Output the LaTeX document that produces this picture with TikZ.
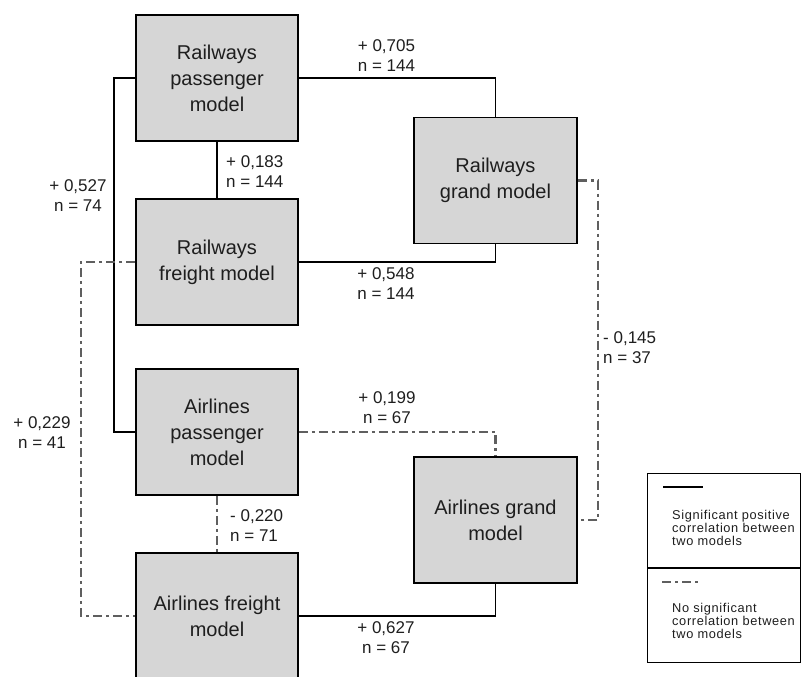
\documentclass[tikz,border=0pt]{standalone}
\usepackage{fontspec}
\setmainfont{Liberation Sans}
\newfontfamily\legendfont[LetterSpace=5]{Liberation Sans}
\definecolor{boxgray}{RGB}{214,214,214}
\definecolor{dashgray}{RGB}{95,95,95}
\definecolor{inkc}{RGB}{30,30,30}
\begin{document}
\begin{tikzpicture}[x=1pt,y=-1pt,
  modelbox/.style={draw=black, line width=1.8pt, fill=boxgray, minimum width=162pt,
    minimum height=126pt, inner sep=0pt, align=center, text=inkc,
    font=\fontsize{20}{26}\selectfont},
  posline/.style={line width=1.4pt, black},
  nosig/.style={line width=2.4pt, color=dashgray, dash pattern=on 9pt off 4pt on 3pt off 4pt},
  lbl/.style={align=center, inner sep=0pt, text=inkc, font=\fontsize{17}{20}\selectfont},
  legtext/.style={align=left, inner sep=0pt, text=inkc, anchor=west,
    font=\legendfont\fontsize{12.8}{13.4}\selectfont}]
\useasboundingbox (0,0) rectangle (801,677);
\clip (0,0) rectangle (801,677);

% model boxes
\node[modelbox] (RP) at (217,78) {Railways\\passenger\\model};
\node[modelbox] (RF) at (217,262) {Railways\\freight model};
\node[modelbox, minimum width=163pt] (RG) at (495.5,180.5) {Railways\\grand model};
\node[modelbox] (AP) at (217,432) {Airlines\\passenger\\model};
\node[modelbox] (AF) at (217,616) {Airlines freight\\model};
\node[modelbox, minimum width=163pt] (AG) at (495.5,520) {Airlines grand\\model};

% connectors
\draw[posline] (RP.west) -- ++(-21,0) |- (AP.west);
\draw[posline] (RP.east) -| (RG.north);
\draw[posline] (RP.south) -- (RF.north);
\draw[posline] (RF.east) -| (RG.south);
\draw[nosig] (RF.west) -- ++(-54,0) |- (AF.west);
\draw[nosig] (AP.east) -| (AG.north);
\draw[nosig] (AP.south) -- (AF.north);
\draw[posline] (AF.east) -| (AG.south);
\draw[nosig] (RG.east) -- ++(20,0) |- (AG.east);

% labels
\node[lbl] (l705) at (386.5,56) {+ 0,705\\n = 144};
\node[lbl, anchor=west, align=left] (l183) at (226,172) {+ 0,183\\n = 144};
\node[lbl] (l527) at (78,195.5) {+ 0,527\\n = 74};
\node[lbl] (l548) at (386,283.5) {+ 0,548\\n = 144};
\node[lbl] (l229) at (42,433) {+ 0,229\\n = 41};
\node[lbl] (l199) at (387,408) {+ 0,199\\n = 67};
\node[lbl, anchor=west, align=left] (l220) at (230,525.5) {- 0,220\\n = 71};
\node[lbl] (l627) at (386,637.5) {+ 0,627\\n = 67};
\node[lbl, anchor=west, align=left] (l145) at (603,348) {- 0,145\\n = 37};

% legend
\node[draw=black, line width=1.2pt, minimum width=153pt, minimum height=189pt,
  inner sep=0pt, anchor=north west] (legend) at (647,473) {};
\coordinate (divL) at (647,568);
\coordinate (divR) at (800,568);
\draw[line width=1.2pt] (divL) -- (divR);
\coordinate (s1a) at (663,487);
\coordinate (s1b) at (703,487);
\draw[posline] (s1a) -- (s1b);
\coordinate (s2a) at (662,582);
\coordinate (s2b) at (700,582);
\draw[nosig] (s2a) -- (s2b);
\node[legtext] (leg1) at (672,528) {Significant positive\\correlation between\\two models};
\node[legtext] (leg2) at (672,621) {No significant\\correlation between\\two models};
\end{tikzpicture}
\end{document}
